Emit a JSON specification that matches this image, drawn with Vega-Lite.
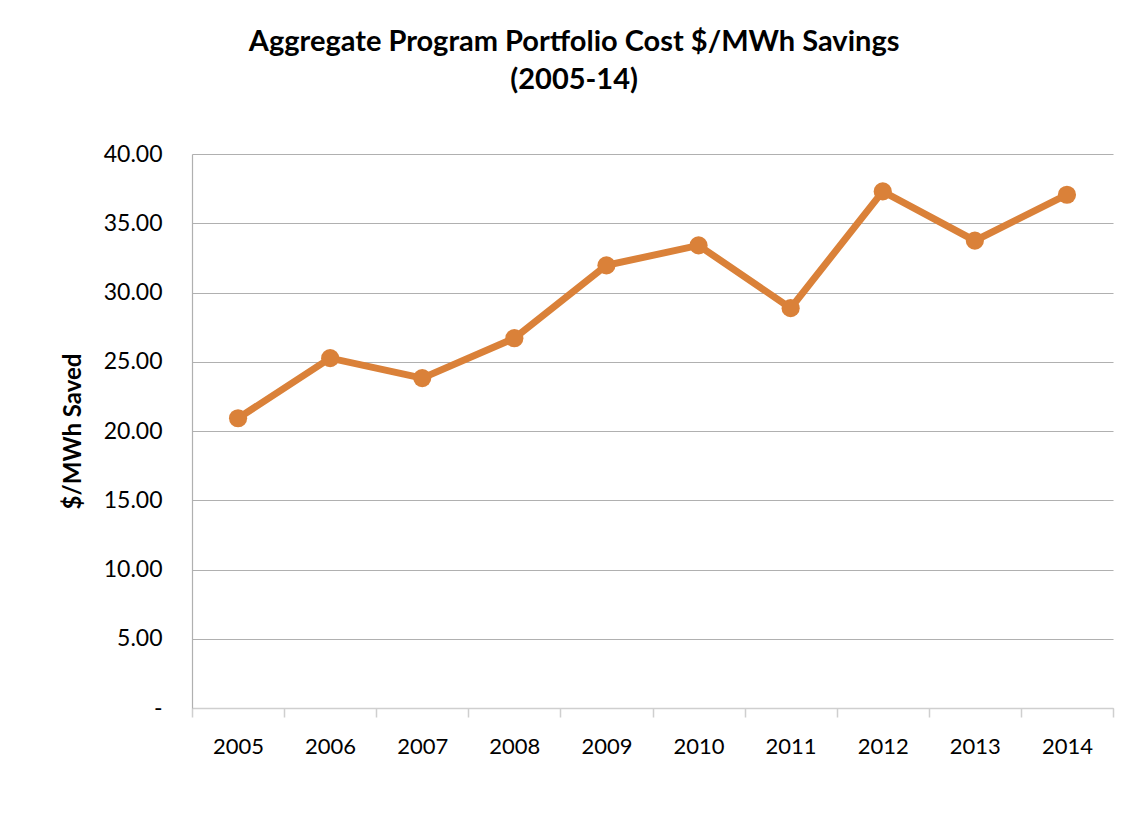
{
  "$schema": "https://vega.github.io/schema/vega-lite/v6.json",
  "width": 921,
  "height": 554,
  "padding": {"left": 61, "top": 28, "right": 20, "bottom": 20},
  "background": "white",
  "title": {
    "text": ["Aggregate Program Portfolio Cost $/MWh Savings", "(2005-14)"],
    "font": "Lato",
    "fontSize": 29,
    "fontWeight": "bold",
    "color": "black",
    "anchor": "middle",
    "frame": "bounds",
    "dx": -36,
    "lineHeight": 38,
    "offset": 48
  },
  "data": {
    "values": [
      {"year": 2005, "cost": 20.92},
      {"year": 2006, "cost": 25.26},
      {"year": 2007, "cost": 23.82},
      {"year": 2008, "cost": 26.70},
      {"year": 2009, "cost": 31.96},
      {"year": 2010, "cost": 33.40},
      {"year": 2011, "cost": 28.87},
      {"year": 2012, "cost": 37.30},
      {"year": 2013, "cost": 33.74},
      {"year": 2014, "cost": 37.06}
    ]
  },
  "encoding": {
    "x": {
      "field": "year",
      "type": "quantitative",
      "scale": {"domain": [2004.5, 2014.5], "nice": false, "zero": false},
      "axis": {
        "title": null,
        "values": [2004.5, 2005.5, 2006.5, 2007.5, 2008.5, 2009.5, 2010.5, 2011.5, 2012.5, 2013.5, 2014.5],
        "labelExpr": "datum.value > 2014 ? '' : format(datum.value + 0.5, 'd')",
        "labelOffset": 46,
        "grid": false,
        "domain": true,
        "domainColor": "#cfcfcf",
        "domainWidth": 1.5,
        "ticks": true,
        "tickColor": "#cfcfcf",
        "tickSize": 9,
        "tickWidth": 1.5,
        "labelPadding": 19,
        "labelFont": "Lato",
        "labelFontSize": 22,
        "labelColor": "black",
        "labelFlush": false,
        "labelOverlap": false
      }
    },
    "y": {
      "field": "cost",
      "type": "quantitative",
      "scale": {"domain": [0, 40], "nice": false},
      "axis": {
        "title": "$/MWh Saved",
        "titleFont": "Lato",
        "titleFontSize": 24,
        "titleFontWeight": "bold",
        "titleColor": "black",
        "titlePadding": 18,
        "values": [0, 5, 10, 15, 20, 25, 30, 35, 40],
        "labelExpr": "datum.value == 0 ? '-' : format(datum.value, '.2f')",
        "labelFont": "Lato",
        "labelFontSize": 23,
        "labelColor": "black",
        "labelPadding": 30,
        "ticks": false,
        "tickSize": 0,
        "grid": true,
        "gridColor": "#b0b0b0",
        "gridWidth": 1.2,
        "domain": true,
        "domainColor": "#b0b0b0",
        "domainWidth": 1.2,
        "labelFlush": false
      }
    }
  },
  "layer": [
    {"mark": {"type": "line", "color": "#DA8139", "strokeWidth": 7}},
    {"mark": {"type": "circle", "color": "#DA8139", "size": 330, "opacity": 1}}
  ],
  "config": {"view": {"stroke": null}}
}
